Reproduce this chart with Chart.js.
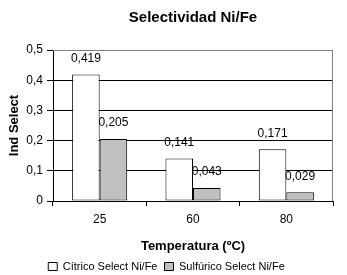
<!DOCTYPE html>
<html>
<head>
<meta charset="utf-8">
<script src="https://cdn.jsdelivr.net/npm/chart.js@4.4.1/dist/chart.umd.min.js"></script>
<style>
  html, body { margin: 0; padding: 0; background: #fff; }
  canvas { display: block; }
</style>
</head>
<body>
<canvas id="myChart" width="347" height="275"></canvas>
<script>
// Chart data
const categories = ['25', '60', '80'];
const citrico = [0.419, 0.141, 0.171];
const sulfurico = [0.205, 0.043, 0.029];
const yTicks = [0, 0.1, 0.2, 0.3, 0.4, 0.5];

const fontFamily = '"Liberation Sans", Arial, sans-serif';

function comma(v, d) {
    if (v === 0) return '0';
    return v.toFixed(d).replace('.', ',');
}

// value labels above each bar
const valueLabels = {
    id: 'valueLabels',
    afterDatasetsDraw(chart) {
        const ctx = chart.ctx;
        ctx.save();
        ctx.font = '12px ' + fontFamily;
        ctx.fillStyle = '#000';
        ctx.textAlign = 'center';
        ctx.textBaseline = 'middle';
        chart.data.datasets.forEach((ds, i) => {
            chart.getDatasetMeta(i).data.forEach((bar, j) => {
                ctx.fillText(comma(ds.data[j], 3), bar.x, bar.y - 16);
            });
        });
        ctx.restore();
    }
};

// gray top/right border of the plot area
const plotBorder = {
    id: 'plotBorder',
    beforeDatasetsDraw(chart) {
        const a = chart.chartArea;
        const ctx = chart.ctx;
        ctx.save();
        ctx.strokeStyle = '#808080';
        ctx.lineWidth = 1;
        ctx.beginPath();
        ctx.moveTo(a.left, a.top + 0.5);
        ctx.lineTo(a.right - 0.5, a.top + 0.5);
        ctx.lineTo(a.right - 0.5, a.bottom);
        ctx.stroke();
        ctx.restore();
    }
};

const ctx = document.getElementById('myChart').getContext('2d');
const myChart = new Chart(ctx, {
    type: 'bar',
    data: {
        labels: categories,
        datasets: [{
            label: 'Cítrico Select Ni/Fe',
            data: citrico,
            backgroundColor: '#ffffff',
            borderColor: '#000000',
            borderWidth: 1,
            borderSkipped: false
        }, {
            label: 'Sulfúrico Select Ni/Fe',
            data: sulfurico,
            backgroundColor: '#c0c0c0',
            borderColor: '#000000',
            borderWidth: 1,
            borderSkipped: false
        }]
    },
    options: {
        responsive: false,
        animation: false,
        devicePixelRatio: 1,
        layout: { padding: { left: 0, right: 14, top: 0, bottom: -7 } },
        datasets: { bar: { categoryPercentage: 0.59, barPercentage: 1 } },
        plugins: {
            title: {
                display: true,
                text: 'Selectividad Ni/Fe',
                fullSize: false,
                color: '#000',
                font: { family: fontFamily, size: 15, weight: 'bold' },
                padding: { top: 9, bottom: 23 }
            },
            legend: {
                position: 'bottom',
                labels: {
                    color: '#000',
                    font: { family: fontFamily, size: 11 },
                    boxWidth: 9,
                    boxHeight: 8,
                    padding: 7
                }
            },
            tooltip: { enabled: false }
        },
        scales: {
            x: {
                afterFit: axis => { axis.height = 53; },
                grid: {
                    drawOnChartArea: false,
                    color: '#000',
                    tickLength: 5
                },
                border: { color: '#000' },
                ticks: {
                    color: '#000',
                    font: { family: fontFamily, size: 12 },
                    padding: 6
                },
                title: {
                    display: true,
                    text: 'Temperatura (ºC)',
                    color: '#000',
                    font: { family: fontFamily, size: 13, weight: 'bold' },
                    padding: { top: 4, bottom: 0 }
                }
            },
            y: {
                min: 0,
                max: 0.5,
                afterBuildTicks: axis => { axis.ticks = yTicks.map(v => ({ value: v })); },
                afterFit: axis => { axis.width = 53; },
                grid: {
                    color: c => (c.tick && c.tick.value === 0.5) ? '#808080' : '#000',
                    tickColor: '#000',
                    tickLength: 6
                },
                border: { color: '#000' },
                ticks: {
                    color: '#000',
                    font: { family: fontFamily, size: 12 },
                    padding: 4,
                    callback: v => comma(v, 1)
                },
                title: {
                    display: true,
                    text: 'Ind Select',
                    color: '#000',
                    font: { family: fontFamily, size: 13, weight: 'bold' },
                    padding: { top: 7, bottom: 4 }
                }
            }
        }
    },
    plugins: [plotBorder, valueLabels]
});
</script>
</body>
</html>
